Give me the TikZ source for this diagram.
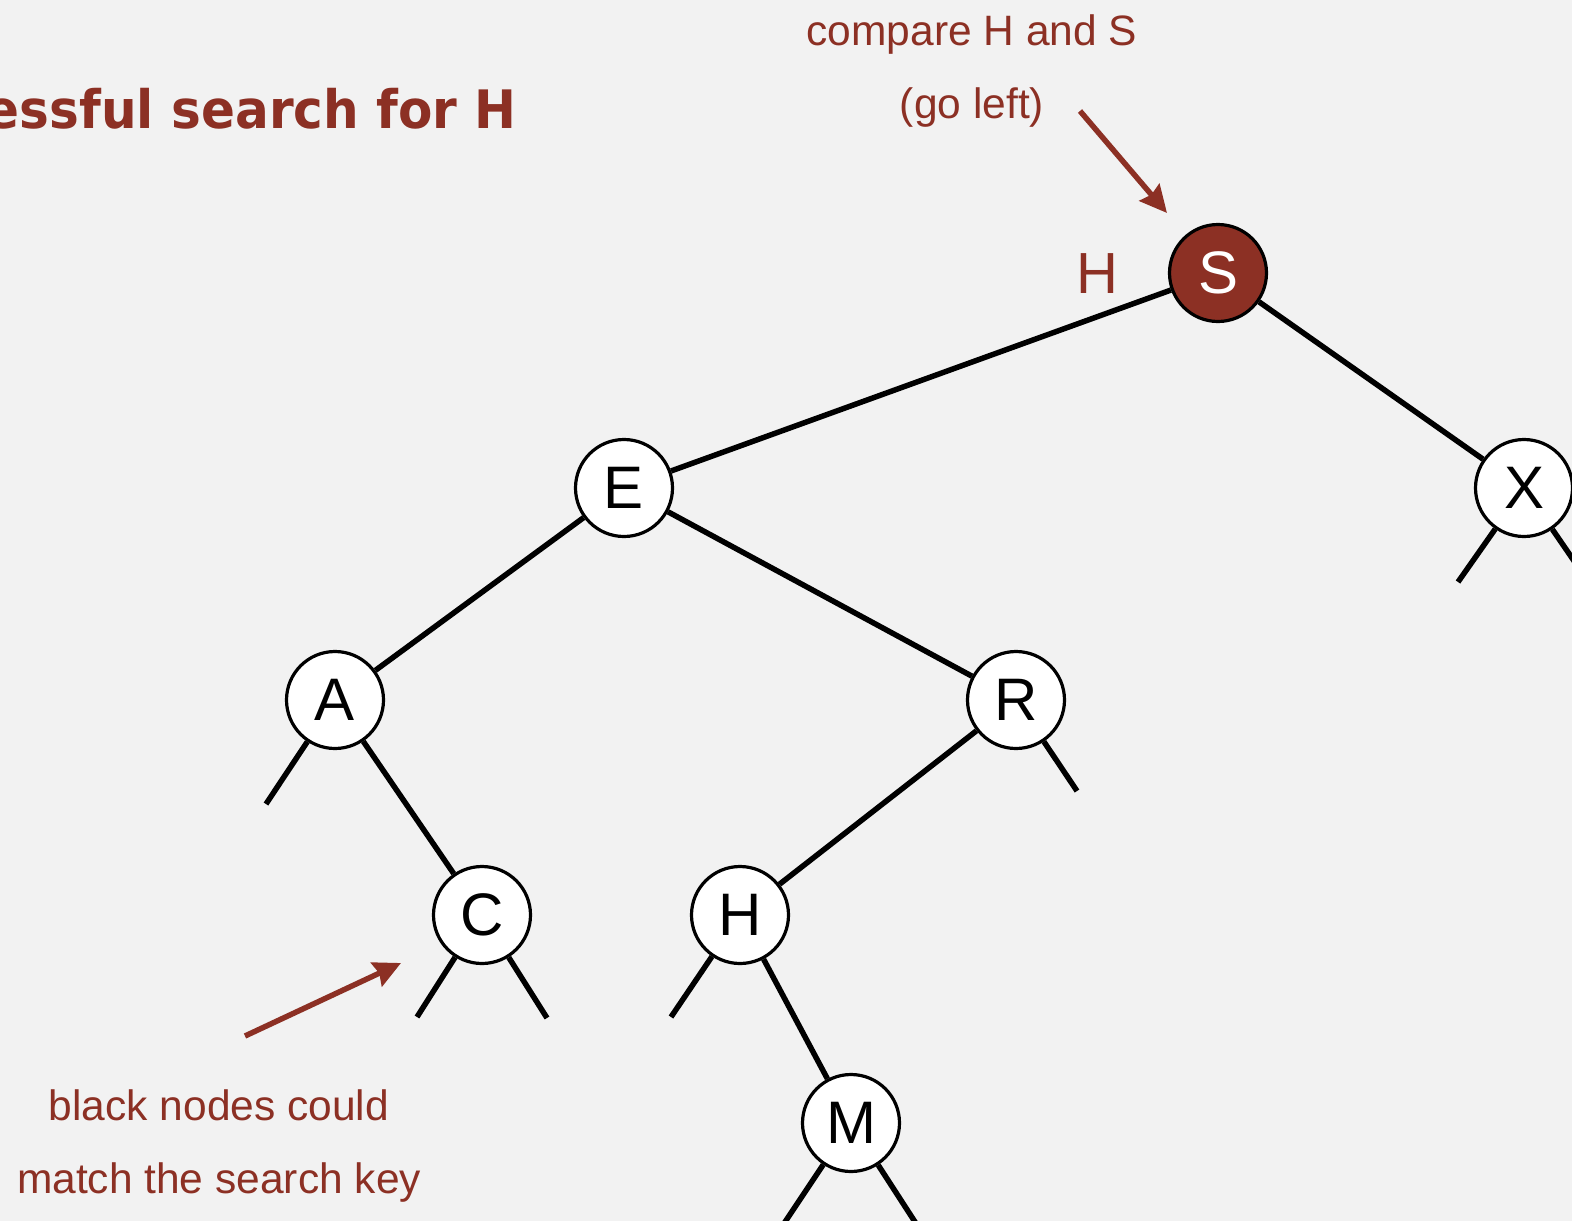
\documentclass[tikz,border=0pt]{standalone}
\usepackage{fontspec}
\setmainfont{Liberation Sans}
\newfontfamily\titlefont[FakeStretch=0.945]{DejaVu Sans}
\usetikzlibrary{arrows.meta}
\definecolor{bg}{RGB}{242,242,242}
\definecolor{darkred}{RGB}{140,48,36}
\tikzset{
  keynode/.style={circle, draw=black, line width=3.2pt, fill=white, minimum size=97pt, inner sep=0pt,
    font=\fontsize{60}{60}\selectfont},
  hitnode/.style={keynode, fill=darkred, text=white},
  link/.style={line width=5.5pt, black},
  note/.style={text=darkred, font=\fontsize{42.5}{50}\selectfont, inner sep=0pt},
  pointer/.style={line width=5.5pt, darkred, -{Stealth[length=27pt,width=26pt,inset=3pt]}}
}
\begin{document}
\begin{tikzpicture}[x=1pt,y=-1pt]
\fill[bg] (0,0) rectangle (1572,1221);
\useasboundingbox (0,0) rectangle (1572,1221);
\clip (0,0) rectangle (1572,1221);

% title
\node[anchor=base east, inner sep=0pt, text=darkred, font=\titlefont\bfseries\fontsize{53}{60}\selectfont] (title) at (517,128) {essful search for H};

% nodes
\node[hitnode] (S) at (1218,273) {S};
\node[keynode] (E) at (624,488) {E};
\node[keynode] (X) at (1524,488) {X};
\node[keynode] (A) at (335,700) {A};
\node[keynode] (R) at (1016,700) {R};
\node[keynode] (C) at (482,915) {C};
\node[keynode] (H) at (740,915) {H};
\node[keynode] (M) at (851,1123) {M};

% stub ends
\coordinate (a1) at (266,804);
\coordinate (r2) at (1077,791);
\coordinate (c1) at (417,1017);
\coordinate (c2) at (547,1018);
\coordinate (h1) at (671,1017);
\coordinate (m1) at (783,1225);
\coordinate (m2) at (917,1225);
\coordinate (x1) at (1458,582);
\coordinate (x2) at (1594,590);

% edges
\draw[link] (S) -- (E);
\draw[link] (S) -- (X);
\draw[link] (E) -- (A);
\draw[link] (E) -- (R);
\draw[link] (A) -- (C);
\draw[link] (R) -- (H);
\draw[link] (H) -- (M);
\draw[link] (A) -- (a1);
\draw[link] (R) -- (r2);
\draw[link] (C) -- (c1);
\draw[link] (C) -- (c2);
\draw[link] (H) -- (h1);
\draw[link] (M) -- (m1);
\draw[link] (M) -- (m2);
\draw[link] (X) -- (x1);
\draw[link] (X) -- (x2);

% annotations
\node[note, anchor=base] (cmp) at (972,45) {compare H and S};
\node[note, anchor=base] (gol) at (972,118) {(go left)};
\node[note, anchor=base, font=\fontsize{58}{60}\selectfont] (key) at (1097,293) {H};
\node[note, anchor=base] (bl1) at (219,1120) {black nodes could};
\node[note, anchor=base] (bl2) at (219,1193) {match the search key};

\coordinate (p1s) at (1080,111);
\coordinate (p1e) at (1167,213);
\coordinate (p2s) at (245,1036);
\coordinate (p2e) at (401,963);
\draw[pointer] (p1s) -- (p1e);
\draw[pointer] (p2s) -- (p2e);
\end{tikzpicture}
\end{document}
